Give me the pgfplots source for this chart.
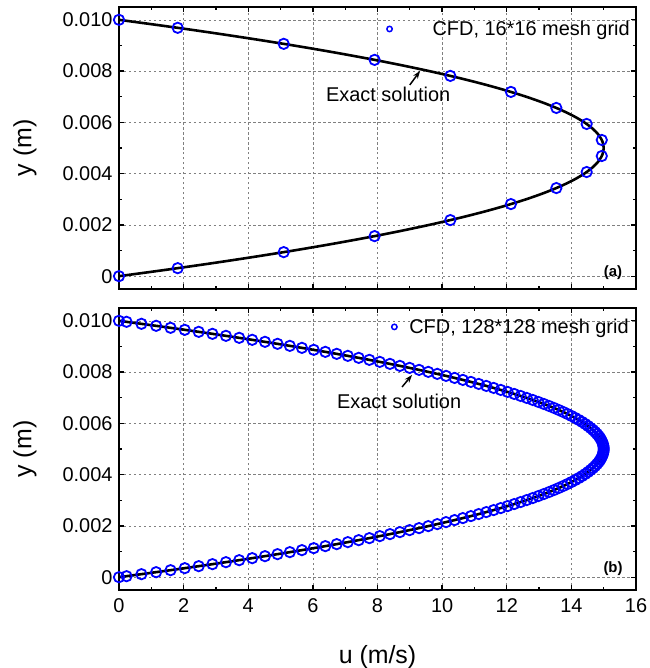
\documentclass[border=0pt]{standalone}
\usepackage{pgfplots}
\pgfplotsset{compat=1.18}
\usepackage{pgfplotstable}
\usepackage{fontspec}
\setmainfont{Liberation Sans}
\usetikzlibrary{arrows.meta}

\pgfplotstableread{
u y
0 0
1.4625 0.00025
2.85 0.0005
4.1625 0.00075
5.4 0.001
6.5625 0.00125
7.65 0.0015
8.6625 0.00175
9.6 0.002
10.4625 0.00225
11.25 0.0025
11.9625 0.00275
12.6 0.003
13.1625 0.00325
13.65 0.0035
14.0625 0.00375
14.4 0.004
14.6625 0.00425
14.85 0.0045
14.9625 0.00475
15 0.005
14.9625 0.00525
14.85 0.0055
14.6625 0.00575
14.4 0.006
14.0625 0.00625
13.65 0.0065
13.1625 0.00675
12.6 0.007
11.9625 0.00725
11.25 0.0075
10.4625 0.00775
9.6 0.008
8.6625 0.00825
7.65 0.0085
6.5625 0.00875
5.4 0.009
4.1625 0.00925
2.85 0.0095
1.4625 0.00975
0 0.01
}\exact

\pgfplotstableread{
u y
0 0
1.8164 0.0003125
5.0977 0.0009375
7.9102 0.0015625
10.2539 0.0021875
12.1289 0.0028125
13.5352 0.0034375
14.4727 0.0040625
14.9414 0.0046875
14.9414 0.0053125
14.4727 0.0059375
13.5352 0.0065625
12.1289 0.0071875
10.2539 0.0078125
7.9102 0.0084375
5.0977 0.0090625
1.8164 0.0096875
0 0.01
}\cfdA

\pgfplotstableread{
u y
0 0
0.2335 0.000039
0.6949 0.000117
1.1490 0.000195
1.5958 0.000273
2.0352 0.000352
2.4673 0.000430
2.8922 0.000508
3.3096 0.000586
3.7198 0.000664
4.1226 0.000742
4.5181 0.000820
4.9063 0.000898
5.2872 0.000977
5.6607 0.001055
6.0269 0.001133
6.3858 0.001211
6.7374 0.001289
7.0816 0.001367
7.4185 0.001445
7.7481 0.001523
8.0704 0.001602
8.3853 0.001680
8.6929 0.001758
8.9932 0.001836
9.2862 0.001914
9.5718 0.001992
9.8502 0.002070
10.1212 0.002148
10.3848 0.002227
10.6412 0.002305
10.8902 0.002383
11.1319 0.002461
11.3663 0.002539
11.5933 0.002617
11.8131 0.002695
12.0255 0.002773
12.2305 0.002852
12.4283 0.002930
12.6187 0.003008
12.8018 0.003086
12.9776 0.003164
13.1461 0.003242
13.3072 0.003320
13.4610 0.003398
13.6075 0.003477
13.7466 0.003555
13.8785 0.003633
14.0030 0.003711
14.1202 0.003789
14.2300 0.003867
14.3326 0.003945
14.4278 0.004023
14.5157 0.004102
14.5963 0.004180
14.6695 0.004258
14.7354 0.004336
14.7940 0.004414
14.8453 0.004492
14.8892 0.004570
14.9258 0.004648
14.9551 0.004727
14.9771 0.004805
14.9918 0.004883
14.9991 0.004961
14.9991 0.005039
14.9918 0.005117
14.9771 0.005195
14.9551 0.005273
14.9258 0.005352
14.8892 0.005430
14.8453 0.005508
14.7940 0.005586
14.7354 0.005664
14.6695 0.005742
14.5963 0.005820
14.5157 0.005898
14.4278 0.005977
14.3326 0.006055
14.2300 0.006133
14.1202 0.006211
14.0030 0.006289
13.8785 0.006367
13.7466 0.006445
13.6075 0.006523
13.4610 0.006602
13.3072 0.006680
13.1461 0.006758
12.9776 0.006836
12.8018 0.006914
12.6187 0.006992
12.4283 0.007070
12.2305 0.007148
12.0255 0.007227
11.8131 0.007305
11.5933 0.007383
11.3663 0.007461
11.1319 0.007539
10.8902 0.007617
10.6412 0.007695
10.3848 0.007773
10.1212 0.007852
9.8502 0.007930
9.5718 0.008008
9.2862 0.008086
8.9932 0.008164
8.6929 0.008242
8.3853 0.008320
8.0704 0.008398
7.7481 0.008477
7.4185 0.008555
7.0816 0.008633
6.7374 0.008711
6.3858 0.008789
6.0269 0.008867
5.6607 0.008945
5.2872 0.009023
4.9063 0.009102
4.5181 0.009180
4.1226 0.009258
3.7198 0.009336
3.3096 0.009414
2.8922 0.009492
2.4673 0.009570
2.0352 0.009648
1.5958 0.009727
1.1490 0.009805
0.6949 0.009883
0.2335 0.009961
0 0.01
}\cfdB

\pgfplotsset{
  panel/.style={
    scale only axis,
    width=517bp, height=282bp,
    xmin=0, xmax=16, ymin=-0.0005, ymax=0.0105,
    xtick={0,2,4,6,8,10,12,14,16},
    ytick={0,0.002,0.004,0.006,0.008,0.010},
    yticklabels={0,0.002,0.004,0.006,0.008,0.010},
    scaled y ticks=false,
    minor x tick num=1, minor y tick num=1,
    tick align=inside,
    xtick pos=both, ytick pos=both,
    major tick length=5bp, minor tick length=3bp,
    every tick/.append style={black, line width=1.3pt},
    axis line style={line width=2.2pt},
    grid=major,
    major grid style={gray, line width=0.6pt, dash pattern=on 2.5pt off 2.5pt},
    /pgf/number format/assume math mode=true,
    tick label style={font=\fontsize{20}{24}\selectfont},
    yticklabel style={xshift=-3bp},
    xticklabel style={yshift=-5bp},
    ylabel={y (m)},
    ylabel style={font=\fontsize{25}{30}\selectfont, at={(axis description cs:-0.182,0.5)}, anchor=center},
    legend cell align=left,
    legend style={draw=none, fill=none, inner sep=0pt, font=\fontsize{20}{24}\selectfont, anchor=east},
    clip=false,
  },
  cfd/.style={only marks, mark=o, color=blue, mark size=5.2pt, line width=1.8pt},
  ex/.style={black, line width=2.6pt, smooth, forget plot},
}

\begin{document}
\begin{tikzpicture}
\path[use as bounding box] (0,0) rectangle (650bp,668bp);

\begin{axis}[panel, at={(119bp,379bp)}, anchor=south west,
  xticklabels={},
  legend style={at={(rel axis cs:0.992,0.922)}},
  legend image code/.code={\path[draw=none, fill=none] (-3bp,0bp) rectangle (41bp,0bp); \draw[only marks, mark=o, blue, mark size=2.7pt, line width=1.5pt] plot coordinates {(0bp,0bp)};},
]
\addplot[cfd] table[x=u, y=y] {\cfdA};
\addlegendentry{CFD, 16*16 mesh grid}
\addplot[ex] table[x=u, y=y] {\exact};
\node[font=\fontsize{20}{24}\selectfont] at (axis cs:8.33,0.00711) {Exact solution};
\draw[line width=1.5pt, -{Stealth[length=8bp, width=5.5bp]}] (axis cs:9.0,0.00746) -- (axis cs:9.32,0.00801);
\node[font=\bfseries\fontsize{15}{18}\selectfont] at (axis cs:15.29,0.00012) {(a)};
\end{axis}

\begin{axis}[panel, at={(119bp,78bp)}, anchor=south west,
  xlabel={u (m/s)},
  xlabel style={font=\fontsize{25}{30}\selectfont, at={(rel axis cs:0.5,0)}, anchor=center, yshift=-67bp},
  legend style={at={(rel axis cs:0.99,0.933)}},
  legend image code/.code={\path[draw=none, fill=none] (-3bp,0bp) rectangle (13bp,0bp); \draw[only marks, mark=o, blue, mark size=2.7pt, line width=1.5pt] plot coordinates {(0bp,0bp)};},
]
\addplot[cfd] table[x=u, y=y] {\cfdB};
\addlegendentry{CFD, 128*128 mesh grid}
\addplot[ex] table[x=u, y=y] {\exact};
\node[font=\fontsize{20}{24}\selectfont] at (axis cs:8.67,0.00684) {Exact solution};
\draw[line width=1.5pt, -{Stealth[length=8bp, width=5.5bp]}] (axis cs:8.76,0.00742) -- (axis cs:9.07,0.00789);
\node[font=\bfseries\fontsize{15}{18}\selectfont] at (axis cs:15.29,0.00035) {(b)};
\end{axis}
\end{tikzpicture}
\end{document}
